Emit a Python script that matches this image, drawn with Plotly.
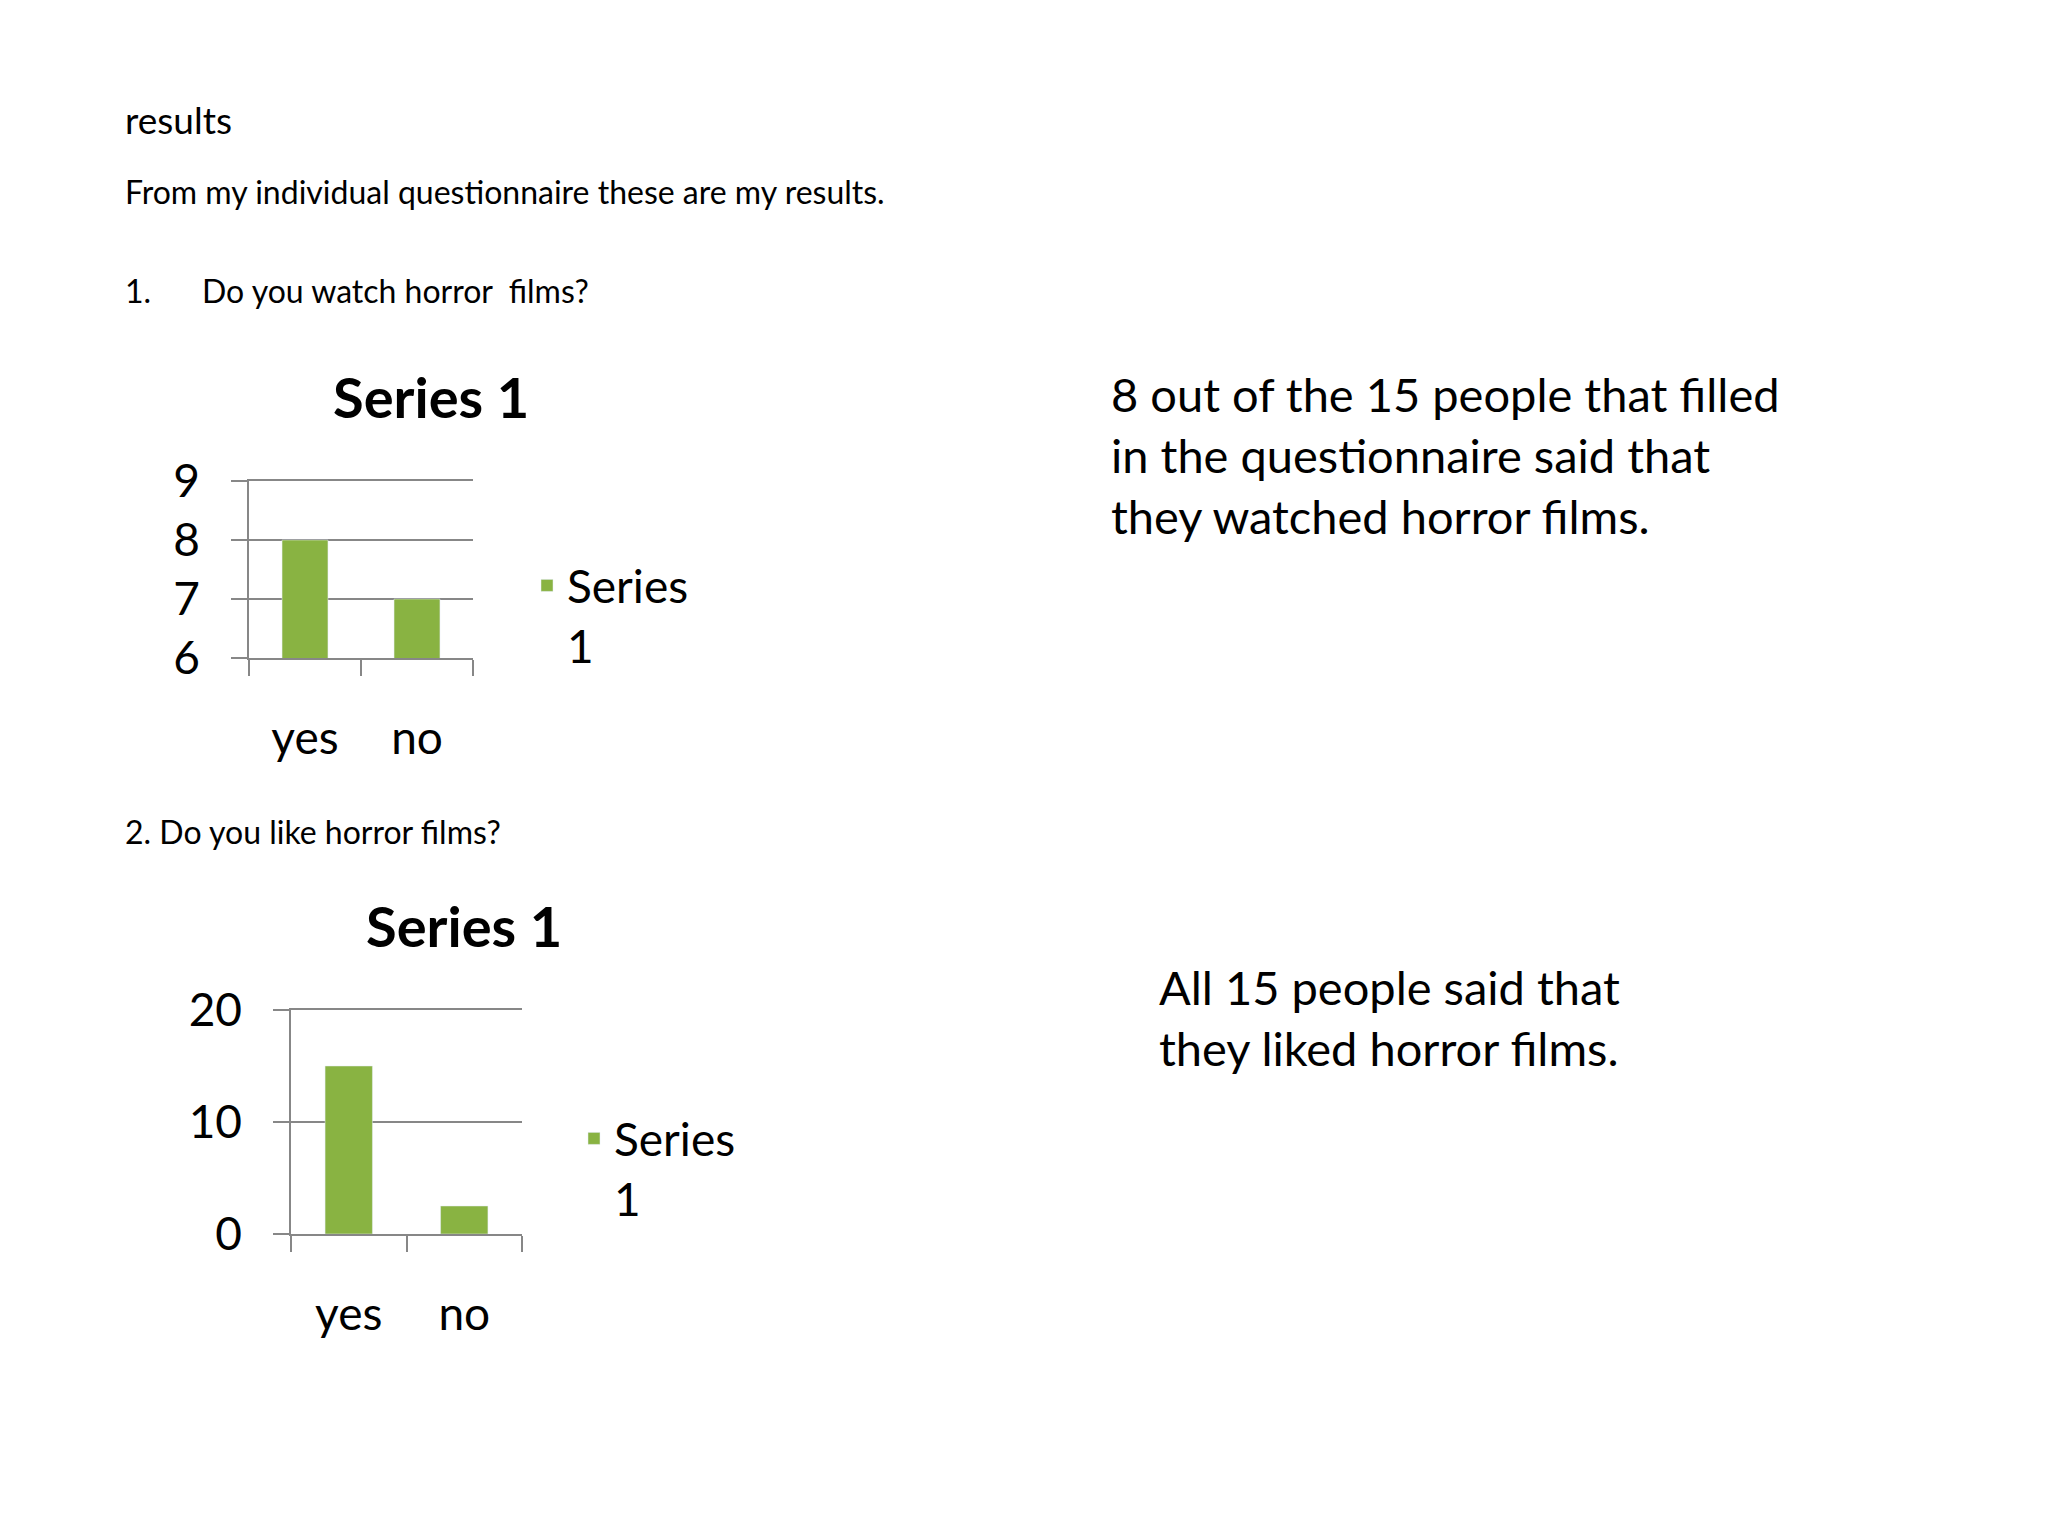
import plotly.graph_objects as go

# ---- data ----
categories = ["yes", "no"]
q1_values = [8, 7]          # Do you watch horror films?
q2_values = [15, 2.5]       # Do you like horror films?
q1_ticks = [6, 7, 8, 9]
q2_ticks = [0, 10, 20]
series_name = "Series<br>1"
chart_title = "Series 1"

W, H = 2048, 1536
OFF = 8  # page body margin compensation
FONT = "Lato"
BAR = "#89b342"
GRID = "#878787"
TXT = "#000000"

def px(x):
    return (x - OFF) / W

def py(y):
    return 1 - (y - OFF) / H

fig = go.Figure()
fig.add_trace(go.Bar(x=categories, y=q1_values, name=series_name, marker_color=BAR,
                     xaxis="x", yaxis="y", legend="legend", showlegend=True))
fig.add_trace(go.Bar(x=categories, y=q2_values, name=series_name, marker_color=BAR,
                     xaxis="x2", yaxis="y2", legend="legend2", showlegend=True))

common_x = dict(showgrid=False, showline=True, mirror=True, linecolor=GRID, linewidth=1.5,
                ticks="outside", tickson="boundaries", ticklen=16, tickcolor=GRID,
                tickwidth=1.5, tickfont=dict(family=FONT, size=46, color=TXT),
                ticklabelstandoff=39, automargin=False, fixedrange=True)
common_y = dict(showgrid=True, gridcolor=GRID, gridwidth=1.5, showline=True,
                linecolor=GRID, linewidth=1.5, ticks="outside", ticklen=16,
                tickcolor=GRID, tickwidth=1.5, zeroline=False,
                tickfont=dict(family=FONT, size=46, color=TXT), ticklabelstandoff=22,
                automargin=False, fixedrange=True)

fig.update_layout(
    width=W, height=H, margin=dict(l=0, r=0, t=0, b=0, autoexpand=False),
    paper_bgcolor="white", plot_bgcolor="white", bargap=0.59,
    xaxis=dict(domain=[px(249), px(473)], anchor="y", **common_x),
    yaxis=dict(domain=[py(658), py(481)], anchor="x", range=[6, 9], tickvals=q1_ticks, **common_y),
    xaxis2=dict(domain=[px(291), px(522)], anchor="y2", **common_x),
    yaxis2=dict(domain=[py(1234), py(1010)], anchor="x2", range=[0, 20], tickvals=q2_ticks, **common_y),
    legend=dict(x=px(527), y=py(549), xanchor="left", yanchor="top", valign="top",
                font=dict(family=FONT, size=46, color=TXT), bgcolor="rgba(0,0,0,0)"),
    legend2=dict(x=px(574), y=py(1102), xanchor="left", yanchor="top", valign="top",
                 font=dict(family=FONT, size=46, color=TXT), bgcolor="rgba(0,0,0,0)"),
)

def note(text, x, y, size, bold=False, xanchor="left"):
    fig.add_annotation(text=f"<b>{text}</b>" if bold else text, x=px(x), y=py(y),
                       xref="paper", yref="paper", xanchor=xanchor, yanchor="middle",
                       showarrow=False, align="left",
                       font=dict(family=FONT, size=size, color=TXT))

note("results", 123, 119, 37)
note("From my individual questionnaire these are my results.", 123, 192, 32)
note("1.", 123, 290, 32)
note("Do you watch horror\u00a0 films?", 200, 290, 32)
note("2. Do you like horror films?", 123, 831, 32)
note(chart_title, 431, 396, 56, bold=True, xanchor="center")
note(chart_title, 464, 925, 56, bold=True, xanchor="center")
note("8 out of the 15 people that filled<br>in the questionnaire said that<br>they watched horror films.",
     1109, 455, 47)
note("All 15 people said that<br>they liked horror films.", 1157, 1017, 47)

fig.write_html("out.html")
